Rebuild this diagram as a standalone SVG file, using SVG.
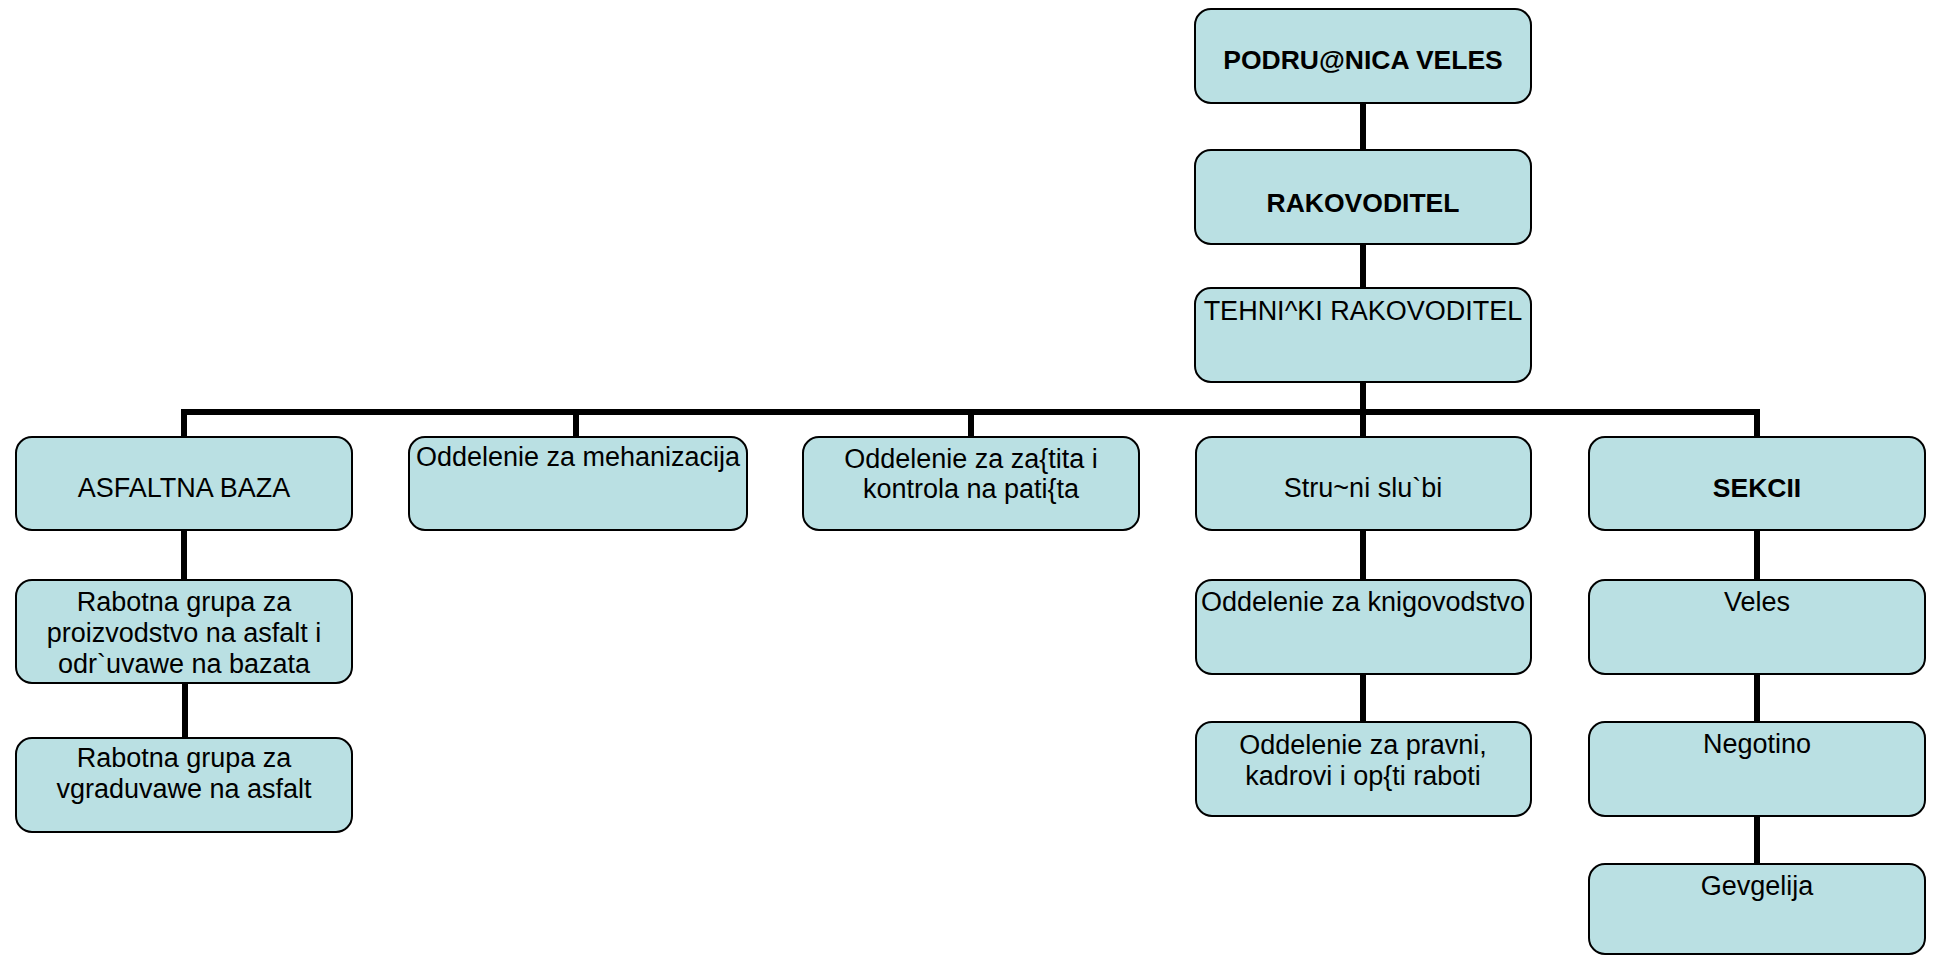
<svg xmlns="http://www.w3.org/2000/svg" width="1939" height="956" viewBox="0 0 1939 956">
<style>
.box{fill:#BAE0E3;stroke:#000;stroke-width:2}
.t{font-family:"Liberation Sans",Arial,sans-serif;font-size:27px;fill:#000;text-anchor:middle}
.b{font-weight:bold;font-size:26.5px}
.c{fill:none;stroke:#000;stroke-width:6}
</style>
<rect width="1939" height="956" fill="#fff"/>
<g id="connectors">
<path class="c" d="M1363 103V150M1363 244V288M1363 382V437"/>
<path class="c" d="M184 437V412H1757V437M576 412V437M971 412V437"/>
<path class="c" d="M184 530V580M185 683V738"/>
<path class="c" d="M1363 530V580M1363 674V722"/>
<path class="c" d="M1757 530V580M1757 674V722M1757 816V864"/>
</g>
<g id="podrucnica"><rect class="box" x="1195" y="9" width="336" height="94" rx="16"/><text class="t b" x="1363" y="69">PODRU@NICA VELES</text></g>
<g id="rakovoditel"><rect class="box" x="1195" y="150" width="336" height="94" rx="16"/><text class="t b" x="1363" y="212">RAKOVODITEL</text></g>
<g id="tehnicki"><rect class="box" x="1195" y="288" width="336" height="94" rx="16"/><text class="t" x="1363" y="320">TEHNI^KI RAKOVODITEL</text></g>
<g id="asfaltna"><rect class="box" x="16" y="437" width="336" height="93" rx="16"/><text class="t" x="184" y="497">ASFALTNA BAZA</text></g>
<g id="mehanizacija"><rect class="box" x="409" y="437" width="338" height="93" rx="16"/><text class="t" x="578" y="466">Oddelenie za mehanizacija</text></g>
<g id="zastita"><rect class="box" x="803" y="437" width="336" height="93" rx="16"/><text class="t" x="971" y="468">Oddelenie za za{tita i</text><text class="t" x="971" y="498">kontrola na pati{ta</text></g>
<g id="strucni"><rect class="box" x="1196" y="437" width="335" height="93" rx="16"/><text class="t" x="1363" y="497">Stru~ni slu`bi</text></g>
<g id="sekcii"><rect class="box" x="1589" y="437" width="336" height="93" rx="16"/><text class="t b" x="1757" y="497">SEKCII</text></g>
<g id="rabotna1"><rect class="box" x="16" y="580" width="336" height="103" rx="16"/><text class="t" x="184" y="611">Rabotna grupa za</text><text class="t" x="184" y="642">proizvodstvo na asfalt i</text><text class="t" x="184" y="673">odr`uvawe na bazata</text></g>
<g id="rabotna2"><rect class="box" x="16" y="738" width="336" height="94" rx="16"/><text class="t" x="184" y="767">Rabotna grupa za</text><text class="t" x="184" y="798">vgraduvawe na asfalt</text></g>
<g id="knigovodstvo"><rect class="box" x="1196" y="580" width="335" height="94" rx="16"/><text class="t" x="1363" y="611">Oddelenie za knigovodstvo</text></g>
<g id="pravni"><rect class="box" x="1196" y="722" width="335" height="94" rx="16"/><text class="t" x="1363" y="754">Oddelenie za pravni,</text><text class="t" x="1363" y="785">kadrovi i op{ti raboti</text></g>
<g id="veles"><rect class="box" x="1589" y="580" width="336" height="94" rx="16"/><text class="t" x="1757" y="611">Veles</text></g>
<g id="negotino"><rect class="box" x="1589" y="722" width="336" height="94" rx="16"/><text class="t" x="1757" y="753">Negotino</text></g>
<g id="gevgelija"><rect class="box" x="1589" y="864" width="336" height="90" rx="16"/><text class="t" x="1757" y="895">Gevgelija</text></g>
</svg>
